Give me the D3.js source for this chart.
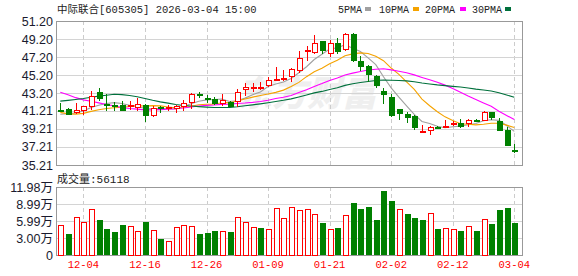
<!DOCTYPE html>
<html><head><meta charset="utf-8">
<script src="https://cdn.jsdelivr.net/npm/d3@7/dist/d3.min.js"></script>
<style>html,body{margin:0;padding:0;background:#fff;}svg{display:block;}</style>
</head><body><svg id="c" width="578" height="276"></svg>
<script>
const title = "中际联合[605305] 2026-03-04 15:00";
const dates = ["12-01","12-02","12-03","12-04","12-05","12-08","12-09","12-10","12-11","12-12","12-15","12-16","12-17","12-18","12-19","12-22","12-23","12-24","12-25","12-26","12-29","12-30","12-31","01-05","01-06","01-07","01-08","01-09","01-12","01-13","01-14","01-15","01-16","01-19","01-20","01-21","01-22","01-23","01-26","01-27","01-28","01-29","01-30","02-02","02-03","02-04","02-05","02-06","02-09","02-10","02-11","02-12","02-13","02-24","02-25","02-26","02-27","03-02","03-03","03-04"];
const opens = [41.33,41.46,40.95,41.17,41.62,43.32,42.02,41.90,41.84,41.62,
41.57,41.84,40.68,41.62,41.55,41.46,41.68,42.13,43.12,42.65,
42.51,41.98,42.20,42.17,43.54,43.85,43.62,44.02,44.62,44.85,
44.95,45.61,47.90,47.65,48.95,47.54,48.76,47.95,49.76,46.79,
46.24,45.06,43.46,42.76,41.43,40.87,40.65,38.98,39.02,39.45,
39.40,39.75,39.84,39.76,40.18,40.13,41.08,40.13,39.10,36.92];
const highs = [42.06,41.50,42.13,41.75,43.43,43.73,43.09,42.17,42.32,42.28,
42.65,41.98,41.73,41.73,41.84,41.91,42.43,43.20,43.28,42.95,
42.79,43.13,42.30,43.62,44.32,44.32,44.39,44.95,46.06,45.79,
45.98,47.84,48.39,49.68,49.01,49.12,49.31,49.87,49.90,47.28,
46.35,45.17,43.76,43.09,41.45,41.13,40.76,39.65,39.50,39.57,
40.21,40.13,40.28,40.28,40.35,41.17,41.10,40.40,39.46,37.51];
const lows = [41.13,40.73,40.84,40.73,41.28,42.32,41.24,41.24,41.20,41.32,
41.21,40.02,40.57,40.98,41.24,41.02,41.17,41.46,42.70,42.13,
41.87,41.76,41.60,41.68,42.84,43.32,43.50,43.84,44.57,44.50,
44.43,45.43,46.72,47.54,47.57,47.17,47.54,47.90,46.70,45.61,
44.43,43.76,41.98,40.51,40.21,39.91,39.10,38.90,38.58,39.21,
39.38,39.50,39.35,39.46,39.95,40.10,40.21,38.95,37.30,36.58];
const closes = [41.28,40.80,41.28,41.73,42.91,42.51,41.80,41.75,41.24,41.84,
41.98,40.65,41.57,41.50,41.60,41.80,42.06,43.09,42.86,42.39,
41.98,42.39,41.65,43.32,43.84,43.90,43.87,44.65,44.76,44.90,
45.87,47.09,47.98,48.76,47.84,48.76,47.72,49.76,46.79,46.06,
45.24,43.95,43.02,40.62,40.87,40.40,39.29,39.02,39.46,39.38,
39.57,39.82,39.40,40.21,40.10,41.10,40.40,39.02,37.35,36.85];
const volumes = [52900,37000,66900,58100,81000,61700,45800,40500,52900,50500,
41700,58100,43500,28200,24100,49300,52300,50500,37000,38800,
42300,41700,40500,66900,58100,49300,48100,45800,82800,65200,
84600,79300,81000,72200,56400,45800,48100,70500,91600,81600,
84600,61700,112800,95100,81000,72200,65200,61700,73400,45800,
47000,45800,42300,50500,42300,63400,54600,79300,82800,56118];
// closes of the 29 sessions before the window (needed for the moving averages)
const priorCloses = [38.3,38.5,38.4,38.7,38.6,38.9,38.6,42.4,44.6,46.0,
46.8,47.5,46.6,45.9,46.3,45.4,44.8,44.9,43.9,43.4,
42.4,41.6,40.9,40.7,40.65,40.5,40.9,40.6,40.97];
const maPeriods = [5,10,20,30];
const maNames = ["5PMA","10PMA","20PMA","30PMA"];
const priceTicks = [51.20,49.20,47.20,45.20,43.20,41.21,39.21,37.21,35.21];
const priceTickLabels = ["51.20","49.20","47.20","45.20","43.20","41.21","39.21","37.21","35.21"];
const volTicks = [0,29950,59900,89850,119800];
const volTickLabels = ["0","3.00万","5.99万","8.99万","11.98万"];
const labelDates = ["12-04","12-16","12-26","01-09","01-21","02-02","02-12","03-04"];
const volLabel = "成交量:56118";

const maColors = ["#a0a0a0","#f5a300","#ff00ff","#00703c"];
const RED = "#ff0000", GREEN = "#008000";

const svg = d3.select("#c");
const L = 56, R = 522, T = 21, B = 165, VT = 187, VB = 255;

const x = d3.scaleBand().domain(dates).range([56.45, 518.15]).paddingInner(0);
const bw = x.bandwidth();
const cx = d => Math.round(x(d) + bw/2) + 0.5;
const y = d3.scaleLinear().domain([35.21, 51.20]).range([B, T]);
const yv = d3.scaleLinear().domain([0, 119800]).range([VB, VT]);

const data = dates.map((d,i)=>({d, o:opens[i], h:highs[i], l:lows[i], c:closes[i], v:volumes[i],
  pc: i===0 ? priorCloses[priorCloses.length-1] : closes[i-1]}));

// watermark
svg.append("text").attr("x",237).attr("y",106).attr("font-family","Noto Sans CJK SC")
  .attr("font-weight","900").attr("font-size",35).attr("fill","#efefef").attr("font-style","italic").text("东方财富");

const gridG = svg.append("g");
const yAxisG = svg.append("g").attr("transform",`translate(${L},0)`)
  .call(d3.axisLeft(y).tickValues(priceTicks).tickFormat((v,i)=>priceTickLabels[i]).tickSize(-(R-L)).tickPadding(3));
yAxisG.select(".domain").remove();
yAxisG.selectAll(".tick line").attr("stroke","#d4d4d4").attr("shape-rendering","crispEdges");
yAxisG.selectAll(".tick text").attr("font-family","Liberation Sans, Arial, sans-serif").attr("font-size",12.5).attr("fill","#1a1a2e");

const yvAxisG = svg.append("g").attr("transform",`translate(${L},0)`)
  .call(d3.axisLeft(yv).tickValues(volTicks).tickFormat((v,i)=>volTickLabels[i]).tickSize(-(R-L)).tickPadding(3));
yvAxisG.select(".domain").remove();
yvAxisG.selectAll(".tick line").attr("stroke","#d4d4d4").attr("shape-rendering","crispEdges");
yvAxisG.selectAll(".tick text").attr("font-family","Liberation Sans, Noto Sans CJK SC, sans-serif").attr("font-size",12.5).attr("fill","#1a1a2e");

labelDates.forEach(d=>{
  [[T,B],[VT,VB]].forEach(([a,b])=>{
    gridG.append("line").attr("x1",cx(d)).attr("x2",cx(d)).attr("y1",a).attr("y2",b)
      .attr("stroke","#cccccc").attr("stroke-dasharray","4,3").attr("shape-rendering","crispEdges");
  });
});

const xAxisG = svg.append("g").attr("transform",`translate(0,${VB})`)
  .call(d3.axisBottom(x).tickValues(labelDates).tickSize(0).tickPadding(6));
xAxisG.select(".domain").remove();
xAxisG.selectAll(".tick text").attr("font-family","Liberation Mono, monospace").attr("font-size",10.5).attr("fill",RED);

[[T,B],[VT,VB]].forEach(([a,b])=>{
  svg.append("rect").attr("x",L+0.5).attr("y",a+0.5).attr("width",R-L).attr("height",b-a)
    .attr("fill","none").attr("stroke","#999").attr("shape-rendering","crispEdges");
});

const all = priorCloses.concat(closes);
const off = priorCloses.length;
maPeriods.forEach((p,k)=>{
  const vals = closes.map((c,i)=>d3.mean(all.slice(off+i-p+1, off+i+1)));
  const line = d3.line().x((v,i)=>x(dates[i])+bw/2).y(v=>y(v));
  svg.append("path").attr("d",line(vals)).attr("fill","none").attr("stroke",maColors[k]).attr("stroke-width",1.1);
});

const cg = svg.append("g").attr("shape-rendering","crispEdges");
data.forEach(e=>{
  const X = cx(e.d);
  const up = e.c >= e.o;
  const col = up ? RED : GREEN;
  const top = Math.round(y(Math.max(e.o,e.c))), bot = Math.round(y(Math.min(e.o,e.c)));
  const hi = Math.round(y(e.h)), lo = Math.round(y(e.l));
  const hw = 2.5;
  if (bot - top <= 1) {
    cg.append("line").attr("x1",X).attr("x2",X).attr("y1",hi).attr("y2",lo).attr("stroke",col);
    cg.append("line").attr("x1",X-3).attr("x2",X+3).attr("y1",top+0.5).attr("y2",top+0.5).attr("stroke",col).attr("stroke-width",2);
  } else if (up) {
    cg.append("line").attr("x1",X).attr("x2",X).attr("y1",hi).attr("y2",top).attr("stroke",col);
    cg.append("line").attr("x1",X).attr("x2",X).attr("y1",bot).attr("y2",lo).attr("stroke",col);
    cg.append("rect").attr("x",X-hw).attr("y",top+0.5).attr("width",hw*2).attr("height",bot-top-1)
      .attr("fill","#fff").attr("stroke",col);
  } else {
    cg.append("line").attr("x1",X).attr("x2",X).attr("y1",hi).attr("y2",lo).attr("stroke",col);
    cg.append("rect").attr("x",X-hw-0.5).attr("y",top).attr("width",hw*2+1).attr("height",bot-top).attr("fill",col);
  }
});

data.forEach(e=>{
  const X = cx(e.d);
  const up = e.c >= e.pc;
  const t = Math.round(yv(e.v));
  if (up) {
    cg.append("rect").attr("x",X-2.5).attr("y",t+0.5).attr("width",5).attr("height",VB-t-0.5)
      .attr("fill","#fff").attr("stroke",RED);
  } else {
    cg.append("rect").attr("x",X-3).attr("y",t).attr("width",6).attr("height",VB-t).attr("fill",GREEN);
  }
});

svg.append("text").attr("x",57).attr("y",13).attr("font-family","Liberation Mono, Noto Sans CJK SC, monospace")
  .attr("font-size",10.5).attr("fill","#222").text(title);
svg.append("text").attr("x",57).attr("y",183).attr("font-family","Liberation Mono, Noto Sans CJK SC, monospace")
  .attr("font-size",11).attr("fill","#222").text(volLabel);
const legX = [338,379,425,472];
const legM = [365,413,460,505];
maNames.forEach((n,k)=>{
  svg.append("text").attr("x",legX[k]).attr("y",12.5).attr("font-family","Liberation Mono, monospace")
    .attr("font-size",10).attr("fill","#222").text(n);
  svg.append("rect").attr("x",legM[k]).attr("y",7).attr("width",6).attr("height",4).attr("fill",maColors[k]);
});
</script></body></html>
